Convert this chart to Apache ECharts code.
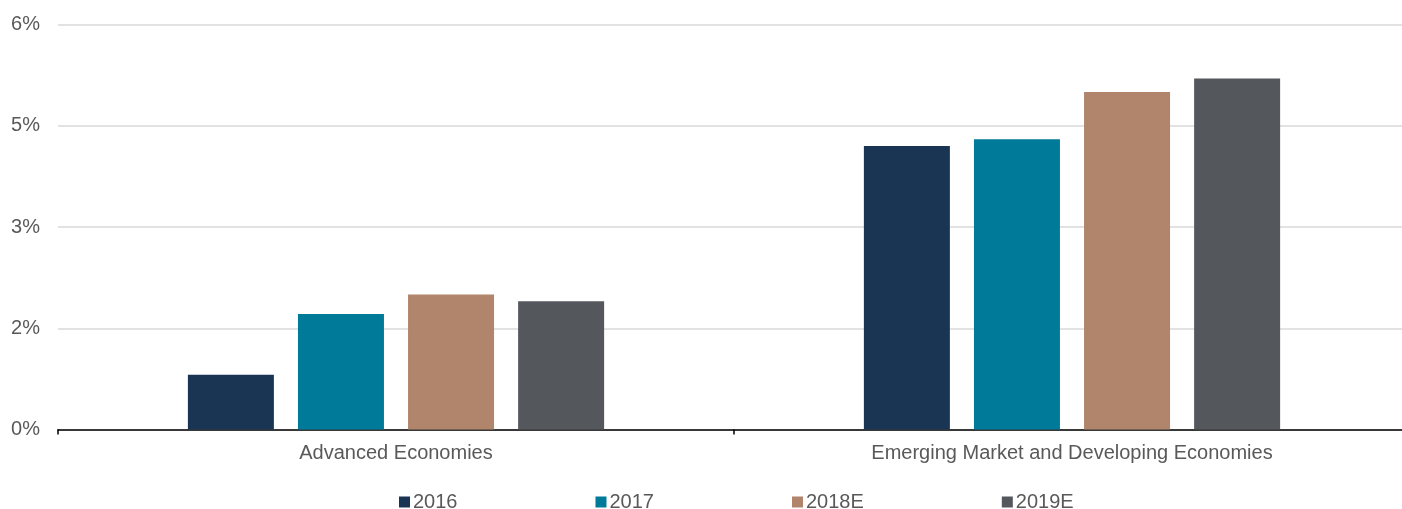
<!DOCTYPE html>
<html>
<head>
<meta charset="utf-8">
<script src="https://cdn.jsdelivr.net/npm/echarts@6/dist/echarts.min.js"></script>
<style>
  html, body { margin: 0; padding: 0; background: #fff; overflow: hidden; }
  #chart { width: 1410px; height: 509px; }
</style>
</head>
<body>
<div id="chart"></div>
<script>
const categories = ['Advanced Economies', 'Emerging Market and Developing Economies'];
const seriesNames = ['2016', '2017', '2018E', '2019E'];
const colors = ['#1a3453', '#007a99', '#b0856b', '#54575c'];
const values2016 = [0.81, 4.20];
const values2017 = [1.71, 4.30];
const values2018E = [2.00, 5.00];
const values2019E = [1.90, 5.20];
const allValues = [values2016, values2017, values2018E, values2019E];

const chart = echarts.init(document.getElementById('chart'));

const textFont = { fontFamily: 'Liberation Sans, Arial, sans-serif', color: '#595959' };

chart.setOption({
  animation: false,
  color: colors,
  // the plot runs a little past the right edge of the window, as in the source
  grid: { left: 58, right: 0, top: 24.5, bottom: 79.5, containLabel: false },
  legend: {
    left: 399,
    top: 492,
    padding: 0,
    itemWidth: 11,
    itemHeight: 11,
    itemGap: 138,
    icon: 'rect',
    textStyle: Object.assign({ fontSize: 20, lineHeight: 20, padding: [0, 0, 0, -2] }, textFont),
    data: seriesNames
  },
  xAxis: {
    type: 'category',
    data: categories,
    axisLine: { lineStyle: { color: '#000', width: 1.5 } },
    axisTick: { show: true, length: 5, lineStyle: { color: '#000', width: 1.5 } },
    axisLabel: Object.assign({ fontSize: 20, margin: 14 }, textFont)
  },
  yAxis: {
    type: 'value',
    min: 0,
    max: 6,
    interval: 1.5,
    axisLine: { show: false },
    axisTick: { show: false },
    splitLine: { lineStyle: { color: '#d9d9d9', width: 1.5 } },
    axisLabel: Object.assign({
      fontSize: 20,
      margin: 18,
      formatter: v => Math.round(v) + '%'
    }, textFont)
  },
  series: seriesNames.map((name, i) => ({
    name: name,
    type: 'bar',
    data: allValues[i],
    barWidth: 86,
    barGap: '28%',
    itemStyle: { color: colors[i] }
  }))
});
</script>
</body>
</html>
